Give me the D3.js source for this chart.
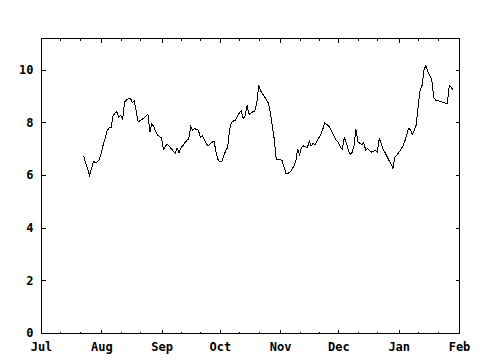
<!DOCTYPE html>
<html><head><meta charset="utf-8">
<script src="https://cdn.jsdelivr.net/npm/d3@7"></script>
<style>
html,body{margin:0;padding:0;background:#fff;}
svg{display:block;}
.axis text{font-family:"DejaVu Sans Mono",monospace;font-weight:bold;font-size:12px;fill:#000;}
.axis line{stroke:#000;shape-rendering:crispEdges;}
</style></head>
<body>
<svg id="chart" width="480" height="360"></svg>
<script>
const monthTicks = ["2006-07-01","2006-08-01","2006-09-01","2006-10-01","2006-11-01","2006-12-01","2007-01-01","2007-02-01"];
const yTicks = [0, 2, 4, 6, 8, 10];

const dates = [
 "2006-07-23","2006-07-24","2006-07-25","2006-07-26","2006-07-27","2006-07-28","2006-07-29","2006-07-30","2006-07-31",
 "2006-08-01","2006-08-02","2006-08-03","2006-08-04","2006-08-05","2006-08-06","2006-08-07","2006-08-08","2006-08-09","2006-08-10",
 "2006-08-11","2006-08-12","2006-08-13","2006-08-14","2006-08-15","2006-08-16","2006-08-17","2006-08-18","2006-08-19","2006-08-20",
 "2006-08-21","2006-08-22","2006-08-23","2006-08-24","2006-08-25","2006-08-26","2006-08-27","2006-08-28","2006-08-29","2006-08-30","2006-08-31",
 "2006-09-01","2006-09-02","2006-09-03","2006-09-04","2006-09-05","2006-09-06","2006-09-07","2006-09-08","2006-09-09","2006-09-10",
 "2006-09-11","2006-09-12","2006-09-13","2006-09-14","2006-09-15","2006-09-16","2006-09-17","2006-09-18","2006-09-19","2006-09-20",
 "2006-09-21","2006-09-22","2006-09-23","2006-09-24","2006-09-25","2006-09-26","2006-09-27","2006-09-28","2006-09-29","2006-09-30",
 "2006-10-01","2006-10-02","2006-10-03","2006-10-04","2006-10-05","2006-10-06","2006-10-07","2006-10-08","2006-10-09","2006-10-10",
 "2006-10-11","2006-10-12","2006-10-13","2006-10-14","2006-10-15","2006-10-16","2006-10-17","2006-10-18","2006-10-19","2006-10-20",
 "2006-10-21","2006-10-22","2006-10-23","2006-10-24","2006-10-25","2006-10-26","2006-10-27","2006-10-28","2006-10-29","2006-10-30","2006-10-31",
 "2006-11-01","2006-11-02","2006-11-03","2006-11-04","2006-11-05","2006-11-06","2006-11-07","2006-11-08","2006-11-09","2006-11-10",
 "2006-11-11","2006-11-12","2006-11-13","2006-11-14","2006-11-15","2006-11-16","2006-11-17","2006-11-18","2006-11-19","2006-11-20",
 "2006-11-21","2006-11-22","2006-11-23","2006-11-24","2006-11-25","2006-11-26","2006-11-27","2006-11-28","2006-11-29","2006-11-30",
 "2006-12-01","2006-12-02","2006-12-03","2006-12-04","2006-12-05","2006-12-06","2006-12-07","2006-12-08","2006-12-09","2006-12-10",
 "2006-12-11","2006-12-12","2006-12-13","2006-12-14","2006-12-15","2006-12-16","2006-12-17","2006-12-18","2006-12-19","2006-12-20",
 "2006-12-21","2006-12-22","2006-12-23","2006-12-24","2006-12-25","2006-12-26","2006-12-27","2006-12-28","2006-12-29","2006-12-30","2006-12-31",
 "2007-01-01","2007-01-02","2007-01-03","2007-01-04","2007-01-05","2007-01-06","2007-01-07","2007-01-08","2007-01-09","2007-01-10",
 "2007-01-11","2007-01-12","2007-01-13","2007-01-14","2007-01-15","2007-01-16","2007-01-17","2007-01-18","2007-01-19","2007-01-20",
 "2007-01-21","2007-01-22","2007-01-23","2007-01-24","2007-01-25","2007-01-26","2007-01-27","2007-01-28","2007-01-29"
];

const values = [
 6.71,6.45,6.22,5.98,6.25,6.52,6.46,6.50,6.58,
 6.84,7.15,7.40,7.67,7.79,7.79,8.24,8.34,8.40,8.20,8.26,8.11,8.77,8.85,8.89,8.91,8.75,8.81,8.40,8.01,8.07,8.11,8.17,8.23,8.30,7.63,7.95,7.83,7.65,7.50,7.46,
 7.40,6.97,7.10,7.16,7.08,7.00,6.90,6.82,7.03,6.84,7.03,7.12,7.22,7.31,7.38,7.83,7.70,7.76,7.73,7.69,7.41,7.48,7.35,7.20,7.10,7.18,7.24,7.29,6.87,6.59,
 6.50,6.52,6.72,6.92,7.05,7.70,8.00,8.05,8.08,8.24,8.35,8.43,8.14,8.24,8.64,8.30,8.35,8.40,8.43,8.75,9.40,9.18,9.08,8.96,8.85,8.72,8.35,7.85,7.35,6.59,6.59,
 6.59,6.55,6.30,6.06,6.06,6.10,6.20,6.33,6.50,7.00,6.76,7.05,7.10,7.07,7.03,7.29,7.10,7.20,7.16,7.30,7.42,7.55,7.75,7.98,7.92,7.85,7.75,7.58,7.45,7.30,
 7.24,7.05,6.97,7.41,7.24,6.95,6.78,6.86,7.10,7.73,7.26,7.20,7.15,7.22,6.95,7.00,6.92,6.87,6.90,6.93,6.87,7.38,7.20,6.98,6.84,6.70,6.55,6.42,6.25,6.68,6.75,
 6.85,6.95,7.08,7.25,7.50,7.77,7.72,7.55,7.69,7.90,8.60,9.22,9.40,10.00,10.15,9.93,9.77,9.60,8.95,8.84,8.82,8.80,8.78,8.75,8.72,8.71,9.41,9.33,9.21
];

const parse = d3.timeParse("%Y-%m-%d");
const data = dates.map((d, i) => ({date: parse(d), value: values[i]}));
const months = monthTicks.map(parse);
const minorTicks = [];
d3.timeMonth.range(months[0], months[months.length - 1]).forEach(m => {
  [11, 21].forEach(day => minorTicks.push(new Date(m.getFullYear(), m.getMonth(), day)));
});

const plotL = 41, plotR = 459, plotT = 38, plotB = 333;
const x = d3.scaleTime().domain([months[0], months[months.length - 1]]).range([plotL, plotR]);
const y = d3.scaleLinear().domain([0, 11.2]).range([plotB, plotT]);

const svg = d3.select("#chart");
svg.append("rect").attr("width", 480).attr("height", 360).attr("fill", "#fff");

svg.append("g").attr("class", "axis").attr("transform", `translate(0,${plotB + 0.5})`)
  .call(d3.axisBottom(x).tickValues(months).tickFormat(d3.timeFormat("%b")).tickSize(-4).tickPadding(9))
  .call(g => g.select(".domain").remove());
svg.append("g").attr("class", "axis").attr("transform", `translate(0,${plotB + 0.5})`)
  .call(d3.axisBottom(x).tickValues(minorTicks).tickFormat("").tickSize(-2))
  .call(g => g.select(".domain").remove());
svg.append("g").attr("class", "axis").attr("transform", `translate(0,${plotT + 0.5})`)
  .call(d3.axisTop(x).tickValues(months).tickFormat("").tickSize(-4))
  .call(g => g.select(".domain").remove());
svg.append("g").attr("class", "axis").attr("transform", `translate(0,${plotT + 0.5})`)
  .call(d3.axisTop(x).tickValues(minorTicks).tickFormat("").tickSize(-2))
  .call(g => g.select(".domain").remove());
svg.append("g").attr("class", "axis").attr("transform", `translate(${plotL + 0.5},0)`)
  .call(d3.axisLeft(y).tickValues(yTicks).tickFormat(d3.format("d")).tickSize(-4).tickPadding(8))
  .call(g => g.select(".domain").remove());
svg.append("g").attr("class", "axis").attr("transform", `translate(${plotR + 0.5},0)`)
  .call(d3.axisRight(y).tickValues(yTicks).tickFormat("").tickSize(-4))
  .call(g => g.select(".domain").remove());

svg.append("rect").attr("x", plotL + 0.5).attr("y", plotT + 0.5)
  .attr("width", plotR - plotL).attr("height", plotB - plotT)
  .attr("fill", "none").attr("stroke", "#000").attr("stroke-width", 1)
  .attr("shape-rendering", "crispEdges");

const line = d3.line().x(d => x(d.date)).y(d => y(d.value));
svg.append("path").datum(data).attr("d", line)
  .attr("fill", "none").attr("stroke", "#000").attr("stroke-width", 1)
  .attr("shape-rendering", "crispEdges");
</script>
</body></html>
